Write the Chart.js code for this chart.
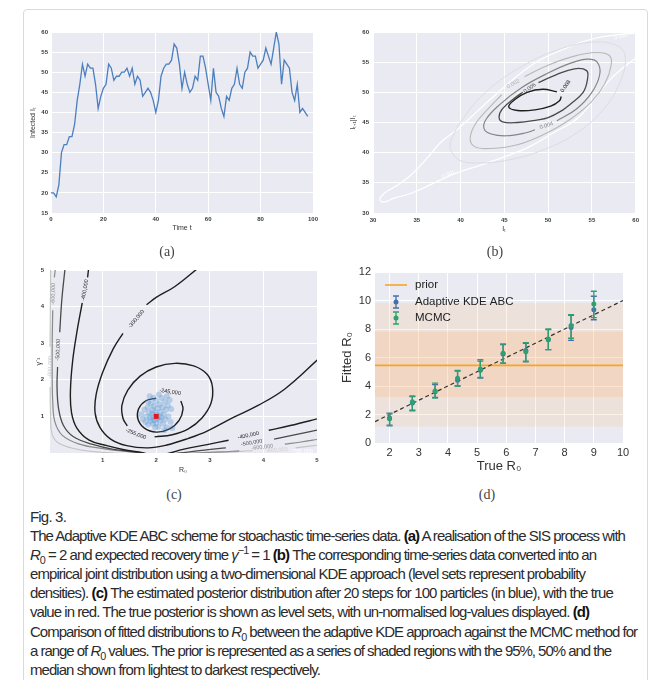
<!DOCTYPE html>
<html>
<head>
<meta charset="utf-8">
<script src="https://cdn.jsdelivr.net/npm/chart.js@4.4.1/dist/chart.umd.min.js"></script>
<style>
  body { margin:0; width:658px; height:680px; overflow:hidden; background:#fff; position:relative; font-family:"Liberation Sans", Arial, sans-serif; }
  .card { position:absolute; left:23px; top:9px; width:623px; height:720px; border:1px solid #dadada; border-radius:4px; }
  canvas { position:absolute; }
  .sub { position:absolute; width:40px; margin-left:-20px; text-align:center; font:14px/15px "Liberation Serif", "DejaVu Serif", serif; color:#444; }
  .cap { position:absolute; left:30px; top:507px; color:#2b2b2b; font-size:15px; line-height:19.1px; }
  .cap .ln { display:inline-block; white-space:nowrap; }
  .cap b { color:#111; }
  sub, sup { font-size:0.72em; line-height:0; }
</style>
</head>
<body>
<div class="card"></div>
<canvas id="chartA" width="299" height="220" style="left:24px;top:20px"></canvas>
<canvas id="chartB" width="310" height="220" style="left:333px;top:20px"></canvas>
<canvas id="chartC" width="299" height="225" style="left:24px;top:258px"></canvas>
<canvas id="chartD" width="310" height="225" style="left:333px;top:258px"></canvas>
<div class="sub" style="left:167px;top:244px">(a)</div>
<div class="sub" style="left:495px;top:244px">(b)</div>
<div class="sub" style="left:174px;top:487px">(c)</div>
<div class="sub" style="left:487px;top:487px">(d)</div>

<div class="cap">
<span class="ln" data-w="36">Fig. 3.</span><br>
<span class="ln" data-w="595">The Adaptive KDE ABC scheme for stoachastic time-series data. <b>(a)</b> A realisation of the SIS process with</span><br>
<span class="ln" data-w="566"><i>R</i><sub>0</sub> = 2 and expected recovery time <i>γ</i><sup>−1</sup> = 1 <b>(b)</b> The corresponding time-series data converted into an</span><br>
<span class="ln" data-w="555">empirical joint distribution using a two-dimensional KDE approach (level sets represent probability</span><br>
<span class="ln" data-w="583">densities). <b>(c)</b> The estimated posterior distribution after 20 steps for 100 particles (in blue), with the true</span><br>
<span class="ln" data-w="559">value in red. The true posterior is shown as level sets, with un-normalised log-values displayed. <b>(d)</b></span><br>
<span class="ln" data-w="607">Comparison of fitted distributions to <i>R</i><sub>0</sub> between the adaptive KDE approach against the MCMC method for</span><br>
<span class="ln" data-w="581">a range of <i>R</i><sub>0</sub> values. The prior is represented as a series of shaded regions with the 95%, 50% and the</span><br>
<span class="ln" data-w="290">median shown from lightest to darkest respectively.</span>
</div>

<script>
// (a) infected count per time step, t = 0..98
const infected = [20,20,19,22,30,32,32,34,34,37,
  43,47,52,49,52,51,51,47,41,44,
  46,47,52,51,48,49,49,50,50,51,
  49,51,47,49,48,44,45,46,45,43,
  40,43,49,51,52,52,53,57,56,52,
  46,50,47,45,46,49,48,54,54,51,
  47,43,51,45,44,41,39,44,43,46,
  47,51,47,46,50,51,55,54,54,51,
  52,53,56,54,52,56,60,57,47,53,
  52,51,45,43,47,40,41,40,39];
const timeTicks = [0, 20, 40, 60, 80, 100];
const infectedTicks = [15, 20, 25, 30, 35, 40, 45, 50, 55, 60];

// (b) KDE level sets, traced as (I_t, I_t+1) points, outermost first
const kdeTicks = [30, 35, 40, 45, 50, 55, 60];
const kdeOuter = [[60.5,56.3],[57,52],[53.6,46.0],[50.5,43.2],[47.9,41.0],[45,39.3],[42.2,37.9],[39.5,36.6],[37.6,35.4],[34.6,33.4],[32.5,32.5],[31.1,31.8],[30.8,32.4],[31.5,33.5],[32.7,34.5],[34.5,36.5],[36.3,39.3],[37.8,41.8],[40,44.3],[43.3,48.7],[47.9,54.3],[51.7,57.1],[55.5,59.0],[60.5,59.9]];
const kdeFaint = [[38.8,40.5],[39.8,38.8],[42,38.3],[45.5,38.8],[49.5,40.5],[53.5,43.5],[56.5,47.5],[58.3,52],[58.8,56],[57.8,57.8],[55,58.3],[51,57],[47,54.3],[43,50.2],[40.2,45.5],[38.9,42],[38.8,40.5]];
const kde002 = [[47.3,52.6],[50,54.5],[53,56],[55.5,56.6],[57,56.1],[57.2,54.5],[56.5,51.5],[55,48.5],[52.5,45.5],[49.5,43],[46.5,41.3],[43.5,40.7],[41.6,41.0],[41.1,42.5],[41.8,45],[43.3,47.5],[44.7,49.6]];
const kde004 = [[51.0,45.3],[53.2,47.2],[55,50],[55.9,53],[55.6,55],[54.5,55.5],[52.5,54.8],[50,53.2],[47,50.8],[44.5,48],[42.9,45.5],[42.7,43.9],[43.5,43.1],[45.2,42.8],[47.5,43.3],[48.5,43.8]];
const kde006 = [[48.9,51.6],[50.9,52.9],[53.0,53.9],[54.4,53.6],[54.5,52.2],[54,50],[52.5,48],[51.7,47.1],[50,45.8],[48.7,45.4],[46.5,45],[44.8,45.1],[44.4,45.9],[44.8,47.3],[46.4,49.3],[47.1,50.0]];
const kde008 = [[51.0,50.1],[49.4,50.5],[47.6,50.0],[46.2,48.8],[45.5,47.6],[46.5,47.0],[48.5,47.1],[50.3,47.7],[51.3,48.6],[51.5,49.3]];
const kdeLabels = [
  {x:38.6, y:36.4, text:'0.001', rot:-25, color:'#ffffff'},
  {x:58.3, y:59.3, text:'0.001', rot:-15, color:'#ffffff'},
  {x:46.0, y:51.4, text:'0.002', rot:-28, color:'#b0b0b0'},
  {x:49.8, y:44.5, text:'0.004', rot:-18, color:'#858585'},
  {x:47.9, y:50.7, text:'0.006', rot:-35, color:'#4a4a4a'},
  {x:52.0, y:51.0, text:'0.008', rot:-55, color:'#1e1e1e'}
];

// (c) posterior particles (R0, 1/gamma) and true value
const postTicks = [0, 1, 2, 3, 4, 5];
const particles = [[1.72,1.05],[1.75,0.92],[1.78,1.18],[1.8,0.85],[1.82,1.0],[1.84,1.25],[1.85,0.78],[1.87,1.1],[1.88,0.95],[1.9,1.35],
  [1.9,0.88],[1.92,1.05],[1.93,1.18],[1.94,0.8],[1.95,0.98],[1.96,1.28],[1.97,0.9],[1.98,1.12],[2.0,1.42],[2.0,0.82],
  [2.01,1.05],[2.02,0.95],[2.03,1.22],[2.04,0.72],[2.05,1.0],[2.06,1.33],[2.07,0.88],[2.08,1.12],[2.1,1.5],[2.1,0.97],
  [2.12,1.25],[2.13,0.8],[2.14,1.05],[2.16,1.4],[2.17,0.92],[2.18,1.18],[2.2,1.55],[2.2,0.7],[2.22,1.3],[2.23,1.0],
  [2.25,1.45],[2.27,0.85],[2.28,1.2],[2.3,0.68],[1.95,1.5],[1.85,1.4],[2.15,0.62],[1.98,0.7],[1.88,1.55],[2.05,1.6]];
const trueValue = [[2, 1]];
// (c) log-posterior level sets, each split where the inline label sits
const post245 = [[[2.0,1.5],[1.8,1.42],[1.67,1.2],[1.66,0.92],[1.78,0.68],[2.0,0.57],[2.25,0.66],[2.43,0.9],[2.5,1.2],[2.46,1.42]]];
const post255 = [[[1.97,0.44],[2.3,0.5],[2.6,0.66],[2.85,0.95],[3.02,1.35],[3.05,1.8],[2.95,2.15],[2.7,2.38],[2.35,2.45],[2.0,2.35],[1.7,2.1],[1.47,1.72],[1.36,1.3],[1.38,0.95],[1.46,0.74]]];
const post300 = [[[2.78,5.05],[2.35,4.55],[2.0,4.25],[1.82,4.05]],
  [[1.38,3.27],[1.2,2.85],[1.0,2.2],[0.88,1.6],[0.86,1.1],[0.95,0.7],[1.15,0.38],[1.45,0.2],[1.85,0.14],[2.2,0.22],[2.6,0.4],[2.95,0.6],[3.45,0.98],[3.9,1.3],[4.4,1.75],[5.05,2.6]]];
const post400 = [[[0.74,5.05],[0.72,4.8]],
  [[0.62,4.1],[0.52,3.3],[0.44,2.5],[0.4,1.7],[0.42,1.1],[0.52,0.68],[0.75,0.35],[1.08,0.2],[1.4,0.09],[1.7,0.02],[1.95,-0.05],[2.2,-0.02],[2.5,0.1],[2.95,0.23],[3.35,0.35]],
  [[4.1,0.62],[4.5,0.75],[5.05,0.95]]];
const post500 = [[[0.3,5.05],[0.24,4.2],[0.2,3.3]],
  [[0.16,2.35],[0.15,1.8],[0.18,1.2],[0.27,0.75],[0.45,0.45],[0.8,0.24],[1.2,0.1],[1.6,0.03],[2.0,-0.06],[2.45,0.0],[2.9,0.08],[3.3,0.14]],
  [[4.2,0.38],[4.6,0.5],[5.05,0.64]]];
const post600 = [[[0.12,5.05],[0.1,4.8]],
  [[0.07,3.9],[0.06,3.0],[0.06,2.0],[0.07,1.4],[0.11,0.85],[0.25,0.48],[0.55,0.25],[1.0,0.12],[1.5,0.03],[2.0,-0.05],[2.7,0.0],[3.2,0.03],[3.55,0.06]],
  [[4.4,0.24],[4.7,0.3],[5.05,0.38]]];
const post800 = [[[0.03,5.05],[0.02,2.9]],
  [[0.02,1.8],[0.03,1.0],[0.06,0.5],[0.2,0.25],[0.6,0.08],[1.2,0.0],[2.0,-0.04],[3.0,0.0],[3.8,0.06]],
  [[4.6,0.14],[5.05,0.22]]];
const postLabels = [
  {x:2.26, y:1.67, text:'-245,000', rot:8, color:'#1e1e1e'},
  {x:1.62, y:0.52, text:'-255,000', rot:22, color:'#1e1e1e'},
  {x:1.63, y:3.66, text:'-300,000', rot:-50, color:'#1e1e1e'},
  {x:0.67, y:4.45, text:'-400,000', rot:-80, color:'#1e1e1e'},
  {x:0.17, y:2.82, text:'-500,000', rot:-88, color:'#4a4a4a'},
  {x:0.08, y:4.35, text:'-600,000', rot:-88, color:'#8a8a8a'},
  {x:0.02, y:2.35, text:'-800,000', rot:-88, color:'#c4c4c4'},
  {x:3.72, y:0.48, text:'-400,000', rot:-12, color:'#1e1e1e'},
  {x:3.78, y:0.28, text:'-500,000', rot:-9, color:'#4a4a4a'},
  {x:3.98, y:0.16, text:'-600,000', rot:-6, color:'#8a8a8a'},
  {x:4.25, y:0.08, text:'-800,000', rot:-3, color:'#d0d0d0'},
  {x:4.72, y:0.05, text:'-700,000', rot:0, color:'#ffffff'}
];

// (d) fitted R0 against true R0
const trueR0 = [2, 2.78, 3.56, 4.33, 5.11, 5.89, 6.67, 7.44, 8.22, 9];
const kdeFit = [1.75, 2.8, 3.6, 4.4, 5.1, 6.25, 6.5, 7.25, 8.1, 9.35];
const kdeLo  = [1.25, 2.3, 3.2, 4.0, 4.55, 5.6, 5.7, 6.55, 7.2, 8.65];
const kdeHi  = [2.1, 3.25, 4.1, 5.05, 5.75, 6.9, 7.0, 7.95, 8.95, 10.3];
const mcmcFit = [1.7, 2.9, 3.65, 4.55, 5.2, 6.3, 6.4, 7.3, 8.25, 9.75];
const mcmcLo  = [1.2, 2.25, 3.15, 4.0, 4.6, 5.6, 5.75, 6.55, 7.35, 8.8];
const mcmcHi  = [2.05, 3.3, 4.2, 5.1, 5.85, 6.95, 7.05, 8.0, 9.0, 10.65];
const prior95 = [1.15, 9.8];
const prior50 = [3.22, 7.8];
const priorMedian = 5.45;
const r0Range = [1.5, 10];
const trueR0Ticks = [2, 3, 4, 5, 6, 7, 8, 9, 10];
const fittedTicks = [0, 2, 4, 6, 8, 10, 12];

Chart.defaults.font.family = '"Liberation Sans", Arial, sans-serif';
Chart.defaults.animation = false;

const pts = arr => arr.map(([x, y]) => ({x, y}));

// seaborn style grey panel behind the grid
const panelBg = {
  id: 'panelBg',
  beforeDraw(chart) {
    const {ctx, chartArea: a} = chart;
    ctx.save();
    ctx.fillStyle = '#EAEAF2';
    ctx.fillRect(a.left, a.top, a.width, a.height);
    ctx.restore();
  }
};

// inline contour labels at data coordinates
const inlineText = {
  id: 'inlineText',
  afterDatasetsDraw(chart, args, opts) {
    if (!opts.items) return;
    const {ctx} = chart, xs = chart.scales.x, ys = chart.scales.y;
    opts.items.forEach(it => {
      ctx.save();
      ctx.translate(xs.getPixelForValue(it.x), ys.getPixelForValue(it.y));
      ctx.rotate(it.rot * Math.PI / 180);
      ctx.font = opts.font;
      ctx.fillStyle = it.color;
      ctx.textAlign = 'center';
      ctx.textBaseline = 'middle';
      ctx.fillText(it.text, 0, 0);
      ctx.restore();
    });
  }
};

// vertical error bars drawn just before the markers of a dataset
const errorBars = {
  id: 'errorBars',
  beforeDatasetDraw(chart, args) {
    const ds = chart.data.datasets[args.index];
    if (!ds.errLo) return;
    const {ctx} = chart, xs = chart.scales.x, ys = chart.scales.y;
    ctx.save();
    ctx.strokeStyle = ds.borderColor;
    ctx.lineWidth = 1.3;
    ds.data.forEach((p, i) => {
      const px = xs.getPixelForValue(p.x);
      const y1 = ys.getPixelForValue(ds.errLo[i]);
      const y2 = ys.getPixelForValue(ds.errHi[i]);
      ctx.beginPath();
      ctx.moveTo(px, y1); ctx.lineTo(px, y2);
      ctx.moveTo(px - 3, y1); ctx.lineTo(px + 3, y1);
      ctx.moveTo(px - 3, y2); ctx.lineTo(px + 3, y2);
      ctx.stroke();
    });
    ctx.restore();
  }
};

Chart.register(panelBg, inlineText, errorBars);

function axis(o) {
  return {
    type: 'linear', min: o.min, max: o.max,
    afterBuildTicks: s => { s.ticks = o.ticks.map(v => ({value: v})); },
    ticks: {
      padding: o.tickPad, color: o.tickColor || '#333',
      font: {size: o.tickSize, weight: o.tickWeight || 'normal'},
      autoSkip: false, maxRotation: 0,
      callback: v => (o.hideZero && v === 0) ? '' : v
    },
    grid: {drawTicks: false, lineWidth: 1, color: '#ffffff'},
    border: {display: false},
    title: {display: true, text: o.title, color: '#333', font: {size: o.titleSize}, padding: o.titlePad},
    afterFit: s => { if (s.isHorizontal()) s.height = o.size; else s.width = o.size; }
  };
}

function contour(segs, color, width) {
  return segs.map(s => ({
    data: pts(s), showLine: true, borderColor: color, borderWidth: width,
    pointRadius: 0, tension: 0.4, fill: false
  }));
}

const small = {tickSize: 6, tickWeight: 'bold', tickColor: '#3a3a3a', titleSize: 7};

// ---------- (a)
new Chart(document.getElementById('chartA'), {
  type: 'scatter',
  data: {
    datasets: [{
      data: infected.map((v, t) => ({x: t, y: v})),
      showLine: true, borderColor: '#4C7FBE', borderWidth: 1.3, pointRadius: 0
    }]
  },
  options: {
    responsive: false,
    layout: {padding: {top: 12, right: 10, bottom: 8, left: 0}},
    plugins: {legend: {display: false}, tooltip: {enabled: false}},
    scales: {
      x: axis({...small, min: 0, max: 100, ticks: timeTicks, tickPad: 3, title: 'Time t', titlePad: 0, size: 19}),
      y: axis({...small, min: 15, max: 60, ticks: infectedTicks, tickPad: 3, title: 'Infected Iₜ', titlePad: 5, size: 27})
    }
  }
});

// ---------- (b)
new Chart(document.getElementById('chartB'), {
  type: 'scatter',
  data: {
    datasets: [].concat(
      contour([kde008], '#1e1e1e', 1.4),
      contour([kde006], '#4a4a4a', 1.3),
      contour([kde004], '#858585', 1.2),
      contour([kde002], '#b8b8b8', 1.1),
      contour([kdeFaint], '#dcdce4', 1.0),
      contour([kdeOuter], '#ffffff', 1.2)
    )
  },
  options: {
    responsive: false,
    layout: {padding: {top: 12, right: 7, bottom: 7, left: 0}},
    plugins: {
      legend: {display: false}, tooltip: {enabled: false},
      inlineText: {items: kdeLabels, font: '5.5px "Liberation Sans"'}
    },
    scales: {
      x: axis({...small, min: 30, max: 60, ticks: kdeTicks, tickPad: 4, title: 'Iₜ', titlePad: 0, size: 20}),
      y: axis({...small, min: 30, max: 60, ticks: kdeTicks, tickPad: 4, title: 'Iₜ₊₁|Iₜ', titlePad: 16, size: 40})
    }
  }
});

// ---------- (c)
new Chart(document.getElementById('chartC'), {
  type: 'scatter',
  data: {
    datasets: [].concat(
      [{data: pts(trueValue), pointStyle: 'rect', pointRadius: 3.5, backgroundColor: '#e8141c', borderWidth: 0}],
      [{data: pts(particles), pointStyle: 'circle', pointRadius: 3, backgroundColor: 'rgba(80,145,210,0.33)', borderWidth: 0}],
      contour(post245, '#1e1e1e', 1.4),
      contour(post255, '#1e1e1e', 1.4),
      contour(post300, '#1e1e1e', 1.4),
      contour(post400, '#1e1e1e', 1.4),
      contour(post500, '#4a4a4a', 1.3),
      contour(post600, '#8a8a8a', 1.2),
      contour(post800, '#c4c4c4', 1.1)
    )
  },
  options: {
    responsive: false,
    layout: {padding: {top: 12, right: 6, bottom: 9, left: 0}},
    plugins: {
      legend: {display: false}, tooltip: {enabled: false},
      inlineText: {items: postLabels, font: '5.5px "Liberation Sans"'}
    },
    scales: {
      x: axis({...small, min: 0, max: 5, ticks: postTicks, tickPad: 4, title: 'R₀', titlePad: 0, size: 21, hideZero: true}),
      y: axis({...small, min: 0, max: 5, ticks: postTicks, tickPad: 5, title: 'γ⁻¹', titlePad: 11, size: 25, hideZero: true})
    }
  }
});

// ---------- (d)
const kdeColor = '#4470AE', mcmcColor = '#2FA06E', priorColor = '#F5A623';
const flat = v => r0Range.map(x => ({x, y: v}));

const legendD = {
  id: 'legendD',
  afterDraw(chart) {
    const {ctx, chartArea: a} = chart;
    const lx = a.left + 21, tx = a.left + 40;
    ctx.save();
    ctx.font = '11.5px "Liberation Sans"';
    ctx.fillStyle = '#222';
    ctx.textBaseline = 'middle';
    ctx.strokeStyle = priorColor; ctx.lineWidth = 1.6;
    ctx.beginPath(); ctx.moveTo(a.left + 10, a.top + 13); ctx.lineTo(a.left + 32, a.top + 13); ctx.stroke();
    ctx.fillText('prior', tx, a.top + 13);
    [[kdeColor, 'Adaptive KDE ABC', a.top + 30], [mcmcColor, 'MCMC', a.top + 46]].forEach(([c, t, y]) => {
      ctx.strokeStyle = c; ctx.lineWidth = 1.3;
      ctx.beginPath();
      ctx.moveTo(lx, y - 6); ctx.lineTo(lx, y + 6);
      ctx.moveTo(lx - 3, y - 6); ctx.lineTo(lx + 3, y - 6);
      ctx.moveTo(lx - 3, y + 6); ctx.lineTo(lx + 3, y + 6);
      ctx.stroke();
      ctx.fillStyle = c;
      ctx.beginPath(); ctx.arc(lx, y, 2.5, 0, Math.PI * 2); ctx.fill();
      ctx.fillStyle = '#222';
      ctx.fillText(t, tx, y);
    });
    ctx.restore();
  }
};

new Chart(document.getElementById('chartD'), {
  type: 'scatter',
  data: {
    datasets: [
      {data: trueR0.map((x, i) => ({x, y: mcmcFit[i]})), errLo: mcmcLo, errHi: mcmcHi,
        backgroundColor: mcmcColor, borderColor: mcmcColor, pointRadius: 2.5, borderWidth: 0, order: 1},
      {data: trueR0.map((x, i) => ({x, y: kdeFit[i]})), errLo: kdeLo, errHi: kdeHi,
        backgroundColor: kdeColor, borderColor: kdeColor, pointRadius: 2.5, borderWidth: 0, order: 2},
      {data: r0Range.map(v => ({x: v, y: v})), showLine: true, borderColor: '#333', borderWidth: 1.2,
        borderDash: [4, 3], pointRadius: 0, order: 3},
      {data: flat(priorMedian), showLine: true, borderColor: priorColor, borderWidth: 1.6, pointRadius: 0, order: 4},
      {data: flat(prior50[0]), showLine: true, borderWidth: 0, pointRadius: 0, order: 5},
      {data: flat(prior50[1]), showLine: true, borderWidth: 0, pointRadius: 0, order: 5,
        fill: 4, backgroundColor: 'rgba(255,160,70,0.17)'},
      {data: flat(prior95[0]), showLine: true, borderWidth: 0, pointRadius: 0, order: 6},
      {data: flat(prior95[1]), showLine: true, borderWidth: 0, pointRadius: 0, order: 6,
        fill: 6, backgroundColor: 'rgba(255,170,90,0.14)'}
    ]
  },
  options: {
    responsive: false,
    layout: {padding: {top: 14, right: 20, bottom: 9, left: 0}},
    plugins: {legend: {display: false}, tooltip: {enabled: false}},
    scales: {
      x: axis({min: r0Range[0], max: r0Range[1], ticks: trueR0Ticks, tickPad: 3, tickSize: 11, title: 'True R₀', titleSize: 13, titlePad: 0, size: 31}),
      y: axis({min: 0, max: 12, ticks: fittedTicks, tickPad: 4, tickSize: 11, title: 'Fitted R₀', titleSize: 13, titlePad: 7, size: 42})
    }
  },
  plugins: [legendD]
});

// squeeze each caption line to the width it has in the figure
document.querySelectorAll('.cap .ln').forEach(el => {
  const target = +el.dataset.w;
  const w = el.getBoundingClientRect().width;
  const n = el.textContent.length;
  el.style.letterSpacing = ((target - w) / n).toFixed(3) + 'px';
});
</script>
</body>
</html>
